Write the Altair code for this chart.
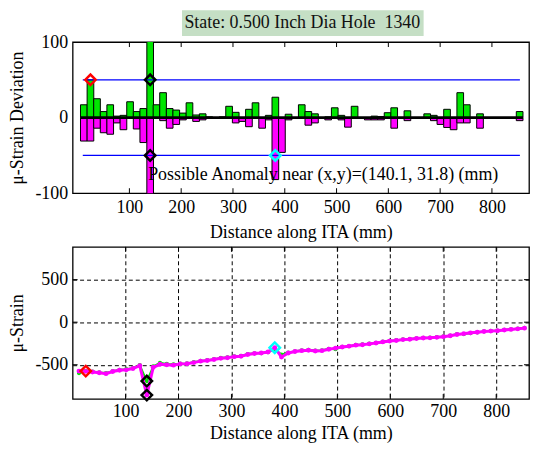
import altair as alt
import pandas as pd

FONT = "Liberation Serif"

# ---------------- data ----------------
bar_x = [12, 24.8, 37.5, 50.3, 63, 75.8, 88.5, 101.3, 114, 126.8,
         140.1, 152.3, 165, 177.8, 190.5, 203.3, 216, 228.8, 241.5, 254.3,
         267, 279.8, 292.5, 305.3, 318, 330.8, 343.5, 356.3, 369, 381.8,
         394.5, 407.3, 420, 432.8, 445.5, 458.3, 471, 483.8, 496.5, 509.3,
         522, 534.8, 547.5, 560.3, 573, 585.8, 598.5, 611.3, 624, 636.8,
         649.5, 662.3, 675, 687.8, 700.5, 713.3, 726, 738.8, 751.5, 764.3,
         777, 789.8, 802.5, 815.3, 828, 840.8, 853.5]

green_dev = [17, 50, 25, 8, 17, 2, 3, 21, 8, 12,
             135, 17, 33, 12, 10, 6, 19.6, 3.5, 5, 1,
             0, 1, 15, 7, 0, 11, 19.6, 0, 3, 27,
             0, 4.5, 0, 17, 8, 5, 0, 1, 13, 3,
             0, 15, 0, 0, 2, 1.5, 6.5, 13, 0, 9,
             0, 0, 5, 3, 0, 11, 0, 33, 17, 0,
             5, 0, 0, 0, 0, 0, 8]

magenta_dev = [-31, -31, -14, -20, -22, -7, -16, 0, -15, -33,
               -110, 0, -4, -14, -9, -3, 0, -5, -3, -1,
               -1, 0, 0, -7, -5, -12, 0, -14, -3, -82,
               -46, -3, 0, 0, -10, -7, -1, -3, 0, -3,
               -12.6, 0, 0, -3, -3, -3, 0, -14, 0, -4,
               0, 0, 0, -4, -9, -13, -16, -7, -7, 0,
               -14, 0, 0, 0, 0, 0, -4]

magenta_strain = [-575, -578, -585, -595, -605, -580, -565, -560, -545, -510,
                  -857, -530, -495, -500, -505, -490, -488, -475, -458, -450,
                  -438, -425, -418, -405, -400, -380, -368, -362, -350, -300,
                  -410, -362, -345, -335, -330, -338, -335, -318, -305, -292,
                  -282, -270, -265, -255, -245, -232, -222, -215, -205, -200,
                  -192, -186, -184, -178, -170, -160, -145, -135, -125, -118,
                  -110, -105, -100, -92, -85, -78, -70]

green_strain = [-598, -572, -580, -590, -598, -575, -560, -552, -540, -505,
                -692, -520, -478, -490, -495, -488, -485, -470, -455, -447,
                -435, -420, -412, -402, -396, -375, -365, -365, -352, -318,
                -380, -358, -342, -330, -325, -333, -330, -313, -318, -290,
                -283, -266, -262, -252, -243, -228, -220, -212, -203, -198,
                -190, -184, -181, -176, -168, -158, -140, -140, -130, -120,
                -108, -103, -98, -90, -83, -76, -68]

x_ticks = [100, 200, 300, 400, 500, 600, 700, 800]
dev_ticks = [-100, 0, 100]
strain_ticks = [-500, 0, 500]
x_domain = [0, 862]
dev_domain = [-100, 100]
strain_domain = [-903, 885]

threshold_y = [50, -50]
threshold_x = [10, 854]

top_mark_x = [24.8, 140.1, 140.1, 381.8]
top_mark_y = [50, 50, -50, -50]
mark_colors = ["#ff0000", "#000000", "#000000", "#00ffff"]
bot_mark_x = [24.8, 140.1, 140.1, 381.8]
bot_mark_y = [-575, -692, -857, -300]

title_text = "State: 0.500 Inch Dia Hole\u00a0 1340"
note_text = "Possible Anomaly near (x,y)=(140.1, 31.8) (mm)"
note_x = 140.1
note_y = -76

x_title = "Distance along ITA (mm)"
top_y_title = "\u03bc-Strain Deviation"
bot_y_title = "\u03bc-Strain"

GREEN = "#00e600"
MAGENTA = "#ff00ff"

W = 459
H1 = 152
H2 = 153

# ---------------- frames ----------------
bars = pd.DataFrame({"x": bar_x, "g": green_dev, "m": magenta_dev})
gbars = bars[bars["g"] != 0]
mbars = bars[bars["m"] != 0]
strain = pd.DataFrame({"x": bar_x, "g": green_strain, "m": magenta_strain})
ticks = pd.DataFrame({"t": x_ticks})
sticks = pd.DataFrame({"t": strain_ticks})
thr = pd.DataFrame({"x": [threshold_x[0]] * 2, "x2": [threshold_x[1]] * 2, "y": threshold_y})
zero = pd.DataFrame({"x": [bar_x[0] - 6.4], "x2": [bar_x[-1] + 6.4], "y": [0]})
tmark = pd.DataFrame({"x": top_mark_x, "y": top_mark_y, "c": mark_colors})
bmark = pd.DataFrame({"x": bot_mark_x, "y": bot_mark_y, "c": mark_colors})
note = pd.DataFrame({"x": [note_x], "y": [note_y], "t": [note_text]})
one = pd.DataFrame({"t": [title_text]})

xscale = alt.Scale(domain=x_domain, nice=False, zero=False)
axis_common = dict(labelFont=FONT, labelFontSize=18, titleFont=FONT, titleFontSize=18,
                   titleFontWeight="normal", labelColor="black", titleColor="black",
                   ticks=False, tickSize=0, domain=False)

xaxis_top = alt.Axis(values=x_ticks, title=x_title, grid=False, labelPadding=5,
                     titlePadding=8, **axis_common)
xaxis_bot = alt.Axis(values=x_ticks, title=x_title, grid=True, gridColor="black",
                     gridDash=[4, 3], gridWidth=1, gridOpacity=1, labelPadding=4,
                     titlePadding=4, **axis_common)
yaxis_top = alt.Axis(values=dev_ticks, title=top_y_title, grid=False, labelPadding=5,
                     titlePadding=8, labelExpr="'' + datum.value", **axis_common)
yaxis_bot = alt.Axis(values=strain_ticks, title=bot_y_title, grid=True, gridColor="black",
                     gridDash=[4, 3], gridWidth=1, gridOpacity=1, labelPadding=5,
                     titlePadding=8, labelExpr="'' + datum.value", **axis_common)

dscale = alt.Scale(domain=dev_domain, nice=False, zero=False)
sscale = alt.Scale(domain=strain_domain, nice=False, zero=False)


def XT(f):
    return alt.X(f, type="quantitative", scale=xscale, axis=xaxis_top)


def XB(f):
    return alt.X(f, type="quantitative", scale=xscale, axis=xaxis_bot)


def YT(f):
    return alt.Y(f, type="quantitative", scale=dscale, axis=yaxis_top)


def YB(f):
    return alt.Y(f, type="quantitative", scale=sscale, axis=yaxis_bot)


# ---------------- top chart ----------------
g_layer = alt.Chart(gbars).mark_bar(color=GREEN, stroke="black", strokeWidth=1,
                                     size=6.7, clip=True).encode(x=XT("x"), y=YT("g"))
m_layer = alt.Chart(mbars).mark_bar(color=MAGENTA, stroke="black", strokeWidth=1,
                                     size=6.7, clip=True).encode(x=XT("x"), y=YT("m"))
zero_layer = alt.Chart(zero).mark_rule(color="black", strokeWidth=2.8).encode(
    x=XT("x"), x2="x2", y=YT("y"))
thr_layer = alt.Chart(thr).mark_rule(color="#0000ff", strokeWidth=1.4).encode(
    x=XT("x"), x2="x2", y=YT("y"))
tick_top1 = alt.Chart(ticks).mark_rule(color="black", strokeWidth=1).encode(
    x=XT("t"), y=alt.value(0), y2=alt.value(5))
tick_top2 = alt.Chart(ticks).mark_rule(color="black", strokeWidth=1).encode(
    x=XT("t"), y=alt.value(H1 - 5), y2=alt.value(H1))
tmark_layer = alt.Chart(tmark).mark_point(shape="diamond", filled=False, strokeWidth=2.5,
                                          size=110, opacity=1).encode(
    x=XT("x"), y=YT("y"), color=alt.Color("c:N", scale=None))
note_layer = alt.Chart(note).mark_text(align="left", baseline="middle", font=FONT,
                                       fontSize=18, color="black", dx=-2).encode(
    x=XT("x"), y=YT("y"), text="t:N")
title_box = alt.Chart(one).mark_rect(color="#c5dfc5").encode(
    x=alt.value(110), x2=alt.value(353), y=alt.value(-32), y2=alt.value(-6))
title_txt = alt.Chart(one).mark_text(font=FONT, fontSize=18, color="#111111",
                                     align="center", baseline="middle").encode(
    x=alt.value(231), y=alt.value(-19.5), text="t:N")

top = alt.layer(g_layer, m_layer, zero_layer, thr_layer, tick_top1, tick_top2,
                tmark_layer, note_layer, title_box, title_txt).properties(width=W, height=H1)

# ---------------- bottom chart ----------------
tick_b1 = alt.Chart(ticks).mark_rule(color="black", strokeWidth=1).encode(
    x=XB("t"), y=alt.value(0), y2=alt.value(5))
tick_b2 = alt.Chart(ticks).mark_rule(color="black", strokeWidth=1).encode(
    x=XB("t"), y=alt.value(H2 - 5), y2=alt.value(H2))
ytick_b1 = alt.Chart(sticks).mark_rule(color="black", strokeWidth=1).encode(
    y=YB("t"), x=alt.value(0), x2=alt.value(5))
ytick_b2 = alt.Chart(sticks).mark_rule(color="black", strokeWidth=1).encode(
    y=YB("t"), x=alt.value(W - 5), x2=alt.value(W))
gline = alt.Chart(strain).mark_line(color=GREEN, strokeWidth=2,
                                    point=alt.OverlayMarkDef(filled=True, size=18, color=GREEN)).encode(
    x=XB("x"), y=YB("g"))
mline = alt.Chart(strain).mark_line(color=MAGENTA, strokeWidth=3,
                                    point=alt.OverlayMarkDef(filled=True, size=24, color=MAGENTA)).encode(
    x=XB("x"), y=YB("m"))
bmark_layer = alt.Chart(bmark).mark_point(shape="diamond", filled=False, strokeWidth=2.5,
                                          size=110, opacity=1).encode(
    x=XB("x"), y=YB("y"), color=alt.Color("c:N", scale=None))

bottom = alt.layer(tick_b1, tick_b2, ytick_b1, ytick_b2, gline, mline, bmark_layer).properties(
    width=W, height=H2)

chart = alt.vconcat(top, bottom, spacing=2).properties(
    padding={"left": 0, "top": 0, "right": 0, "bottom": 0}, background="white"
).configure_view(stroke="black", strokeWidth=1.3)

chart.save("out.html", embed_options={"renderer": "svg", "actions": False})
